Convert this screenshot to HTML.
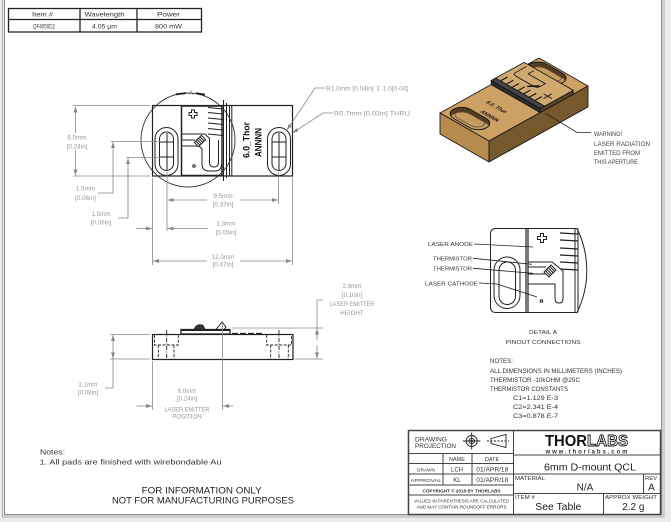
<!DOCTYPE html>
<html><head><meta charset="utf-8"><style>
html,body{margin:0;padding:0;background:#ececec;}
svg{display:block;}
text{font-family:"Liberation Sans",sans-serif;}
</style></head><body>
<svg width="671" height="522" viewBox="0 0 671 522" xmlns="http://www.w3.org/2000/svg">
<defs>
<marker id="a" viewBox="0 0 6 4" refX="6" refY="2" markerWidth="6" markerHeight="4" markerUnits="userSpaceOnUse" orient="auto-start-reverse"><path d="M0,0 L6,2 L0,4 z" fill="#888"/></marker>
<clipPath id="s1"><rect x="0.25" y="0.4" width="2" height="4" rx="1"/></clipPath>
<clipPath id="s2"><rect x="9.8" y="0.1" width="2" height="4" rx="1"/></clipPath>
</defs>
<rect width="671" height="522" fill="#ececec"/>
<rect x="4" y="0" width="658" height="515" fill="#fff"/>
<rect x="662" y="0" width="3" height="517" fill="#cfcfcf"/>
<rect x="2" y="515" width="663" height="3" fill="#cfcfcf"/>
<line x1="2.5" y1="0" x2="2.5" y2="517" stroke="#b0b0b0"/>
<line x1="4.5" y1="0" x2="4.5" y2="515" stroke="#8a8a8a"/>
<line x1="4" y1="514.5" x2="662" y2="514.5" stroke="#8a8a8a"/>
<line x1="661.5" y1="0" x2="661.5" y2="515" stroke="#8a8a8a"/>

<!-- top table -->
<g stroke="#222" stroke-width="1.3" fill="none">
<rect x="8.5" y="8.5" width="193" height="23.5"/>
<line x1="8.5" y1="19.5" x2="201.5" y2="19.5"/>
<line x1="80" y1="8.5" x2="80" y2="32"/>
<line x1="137" y1="8.5" x2="137" y2="32"/>
</g>
<g font-size="6.5" fill="#333" text-anchor="middle">
<text x="42.5" y="16.3" textLength="21" lengthAdjust="spacingAndGlyphs">Item #</text>
<text x="104.5" y="16.3" textLength="40" lengthAdjust="spacingAndGlyphs">Wavelength</text>
<text x="168.5" y="16.3" textLength="23" lengthAdjust="spacingAndGlyphs">Power</text>
<text x="44" y="28.3" textLength="22" lengthAdjust="spacingAndGlyphs">QF4050D2</text>
<text x="104.5" y="28.3" textLength="25" lengthAdjust="spacingAndGlyphs">4.05 µm</text>
<text x="168.5" y="28.3" textLength="27" lengthAdjust="spacingAndGlyphs">800 mW</text>
</g>

<!-- TOP VIEW -->
<g stroke="#222" fill="none" stroke-width="1">
<rect x="152.5" y="105.5" width="140" height="70.5" stroke-width="1.2"/>
<rect x="181.5" y="106" width="40.5" height="69.5" stroke-width="1.5"/>
<line x1="223.5" y1="100" x2="223.5" y2="181"/>
<line x1="226.5" y1="103" x2="226.5" y2="178"/>
<line x1="229.5" y1="105" x2="229.5" y2="176"/>
<line x1="231.8" y1="105" x2="231.8" y2="176"/>
<g stroke-width="1.1">
<line x1="208" y1="107.5" x2="223" y2="109"/>
<line x1="208" y1="112.5" x2="223" y2="114"/>
<line x1="208" y1="118" x2="223" y2="119.5"/>
<line x1="208" y1="123" x2="223" y2="124.5"/>
<line x1="208" y1="128.5" x2="223" y2="130"/>
<line x1="208" y1="134" x2="223" y2="135.5"/>
</g>
<path d="M191.5 110 h3 v2.5 h2.5 v3 h-2.5 v2.5 h-3 v-2.5 h-2.5 v-3 h2.5 z"/>
<path d="M182 134 H205 L209.5 138.5 V162 Q209.5 167 214 167 Q218.5 167 218.5 162 V140"/>
<path d="M182 146 H199 L202 149 V164 Q202 171 209 171 H215 Q221.5 171 221.5 164"/>
<path d="M182 140 H195"/>
<g transform="translate(200,141) rotate(-45)"><rect x="-5" y="-3" width="10" height="6" fill="#fff"/><path d="M-3 -3 V3 M-1 -3 V3 M1 -3 V3 M3 -3 V3"/></g>
<circle cx="194" cy="166" r="1.3"/>
<!-- slots -->
<rect x="155" y="127.5" width="23" height="48" rx="11.5"/>
<rect x="159.5" y="132" width="14" height="38.5" rx="7"/>
<path d="M167 133 V170 M160 142 H174 M160 157 H174"/>
<rect x="267.5" y="127.5" width="23" height="48" rx="11.5"/>
<rect x="272" y="132" width="14" height="38.5" rx="7"/>
<path d="M279 133 V170 M272 142 H286 M272 157 H286"/>
<circle cx="188" cy="140" r="47" stroke="#333" stroke-width="0.9"/>
<path d="M176 94.3 L186 93.1 M196 93.1 L205 94.6" stroke-width="1.8"/>
</g>
<text x="191" y="95" font-size="6" fill="#5070a8" text-anchor="middle">A</text>
<text transform="translate(249.5,140) rotate(-90)" text-anchor="middle" font-size="9" font-weight="bold" fill="#111" textLength="36" lengthAdjust="spacingAndGlyphs">6.0_Thor</text>
<text transform="translate(261.5,142.5) rotate(-90)" text-anchor="middle" font-size="9" font-weight="bold" fill="#111" textLength="29" lengthAdjust="spacingAndGlyphs">ANNNN</text>

<!-- top-view leaders -->
<g stroke="#888" fill="none" stroke-width="0.8">
<path d="M325 88 H315 L287 130" marker-end="url(#a)"/>
<path d="M333 113 H323 L292.5 133" marker-end="url(#a)"/>
</g>
<g font-size="6.2" fill="#999">
<text x="326" y="90.5" textLength="82" lengthAdjust="spacingAndGlyphs">R1.0mm [0.04in] ↧ 1.0[0.04]</text>
<text x="334" y="115.3" textLength="76" lengthAdjust="spacingAndGlyphs">R0.7mm [0.03in] THRU</text>
</g>

<!-- top-view dims -->
<g stroke="#888" fill="none" stroke-width="0.8">
<path d="M73 105.5 H150 M73 176 H150"/>
<path d="M75.5 133 V106.5" marker-end="url(#a)"/>
<path d="M75.5 150 V175.5" marker-end="url(#a)"/>
<path d="M111 141.5 H165 M126 157.5 H165"/>
<path d="M98 193 H113 V142" marker-end="url(#a)"/>
<path d="M118 218 H128 V158" marker-end="url(#a)"/>
<path d="M152.5 178 V265 M292.5 178 V265 M167 172 V231 M278.5 172 V204"/>
<path d="M207 200 H167.5" marker-end="url(#a)"/>
<path d="M240 200 H278" marker-end="url(#a)"/>
<path d="M136 228.5 H152" marker-end="url(#a)"/>
<path d="M208 228.5 H167.5" marker-end="url(#a)"/>
<path d="M207 261 H153" marker-end="url(#a)"/>
<path d="M240 261 H292" marker-end="url(#a)"/>
</g>
<g font-size="6.3" fill="#999" text-anchor="middle">
<text x="77" y="139.5">6.0mm</text>
<text x="77" y="148.5">[0.24in]</text>
<text x="85.5" y="190.5">1.5mm</text>
<text x="85.5" y="200">[0.06in]</text>
<text x="101" y="216">1.5mm</text>
<text x="101" y="224.5">[0.06in]</text>
<text x="223" y="198">9.5mm</text>
<text x="223" y="206.5">[0.37in]</text>
<text x="226" y="225.5">1.3mm</text>
<text x="226" y="234.5">[0.05in]</text>
<text x="223" y="259">12.0mm</text>
<text x="223" y="266.5">[0.47in]</text>
</g>

<!-- 3D VIEW -->
<g stroke="#1a1a1a" stroke-width="0.9" stroke-linejoin="round">
<polygon points="440,113 539,58 588,86 489,141" fill="#cda063"/>
<polygon points="440,113 489,141 489,162 440,134" fill="#b78a4d"/>
<polygon points="489,141 588,86 588,107 489,162" fill="#76582d"/>
</g>
<g transform="matrix(8.25,-4.58,8.17,4.67,440,113)">
<rect x="0.25" y="0.4" width="2" height="4" rx="1" fill="#5a4020"/>
<rect x="-0.3" y="0.95" width="2" height="4" rx="1" fill="#c59c60" clip-path="url(#s1)"/>
<rect x="0.25" y="0.4" width="2" height="4" rx="1" fill="none" stroke="#111" stroke-width="0.9" vector-effect="non-scaling-stroke"/>
<rect x="0.55" y="0.85" width="1.4" height="3.1" rx="0.7" fill="none" stroke="#333" stroke-width="0.6" vector-effect="non-scaling-stroke"/>
<rect x="9.8" y="0.1" width="2" height="4" rx="1" fill="#5a4020"/>
<rect x="9.25" y="0.65" width="2" height="4" rx="1" fill="#c59c60" clip-path="url(#s2)"/>
<rect x="9.8" y="0.1" width="2" height="4" rx="1" fill="none" stroke="#111" stroke-width="0.9" vector-effect="non-scaling-stroke"/>
<rect x="10.1" y="0.55" width="1.4" height="3.1" rx="0.7" fill="none" stroke="#333" stroke-width="0.6" vector-effect="non-scaling-stroke"/>
</g>
<g stroke="#111" stroke-width="0.8" stroke-linejoin="round">
<polygon points="491.2,80.6 540.2,108.6 540.2,112.6 491.2,84.6" fill="#2e2e2e"/>
<polygon points="540.2,108.6 573.2,90.3 573.2,94.3 540.2,112.6" fill="#5a4426"/>
</g>
<g transform="matrix(8.25,-4.58,8.17,4.67,440,109)" fill="none" stroke="#111" stroke-width="0.8">
<rect x="6.2" y="0" width="4" height="6" fill="#cfa96f" vector-effect="non-scaling-stroke"/>
<rect x="6.2" y="0" width="0.55" height="6" fill="#444" vector-effect="non-scaling-stroke"/>
<path d="M6.8 0.6 H7.6 M6.8 1.3 H7.6 M6.8 2 H7.6 M6.8 2.7 H7.6 M6.8 3.4 H7.6 M6.8 4.1 H7.6 M6.8 4.8 H7.6" vector-effect="non-scaling-stroke" stroke-width="1.1"/>
<path d="M9.9 0.6 H8.6 Q8.2 0.6 8.2 1 V3.2 Q8.2 3.6 8.6 3.6 H9.2 V1.5 H9.9" vector-effect="non-scaling-stroke"/>
<path d="M8 4.6 V5.6 M7.5 5.1 H8.5" vector-effect="non-scaling-stroke"/>
<path d="M7.8 2.8 L8.6 3.5" vector-effect="non-scaling-stroke" stroke-width="1.5"/>
</g>
<text transform="matrix(0.868,0.496,-0.874,0.485,495,108)" text-anchor="middle" font-size="6" font-weight="bold" fill="#111" textLength="22" lengthAdjust="spacingAndGlyphs">6.0_Thor</text>
<text transform="matrix(0.868,0.496,-0.874,0.485,488,117)" text-anchor="middle" font-size="6" font-weight="bold" fill="#111" textLength="20" lengthAdjust="spacingAndGlyphs">ANNNN</text>
<path d="M545 113 L577 132.5 H591" stroke="#222" stroke-width="0.8" fill="none"/>
<g font-size="6.2" fill="#444">
<text x="594" y="136" textLength="28" lengthAdjust="spacingAndGlyphs">WARNING!</text>
<text x="594" y="146" textLength="56" lengthAdjust="spacingAndGlyphs">LASER RADIATION</text>
<text x="594" y="155" textLength="46" lengthAdjust="spacingAndGlyphs">EMITTED FROM</text>
<text x="594" y="164" textLength="44" lengthAdjust="spacingAndGlyphs">THIS APERTURE</text>
</g>

<!-- DETAIL A -->
<g stroke="#222" fill="none" stroke-width="1">
<path d="M496 228.5 H577 A95 95 0 0 1 577 312.5 H496 Q490.5 312.5 490.5 307 V234 Q490.5 228.5 496 228.5 Z"/>
<path d="M526 228.5 V312.5 M528 228.5 V312.5" stroke-width="1.2"/>
<path d="M575 228.5 V312.5 M578 228.5 V312.5"/>
<g stroke-width="1.2">
<line x1="560" y1="233" x2="578" y2="234"/>
<line x1="560" y1="240" x2="578" y2="241"/>
<line x1="560" y1="248" x2="578" y2="249"/>
<line x1="560" y1="255" x2="578" y2="256"/>
<line x1="560" y1="262" x2="578" y2="263"/>
<line x1="560" y1="269" x2="578" y2="270"/>
</g>
<path d="M540.5 233.5 h3 v3 h3 v3 h-3 v3 h-3 v-3 h-3 v-3 h3 z"/>
<rect x="494" y="257" width="26" height="51.5" rx="13"/>
<rect x="499" y="262" width="16.5" height="42.5" rx="8.2"/>
<path d="M528 262 H552 L563 271 V299 Q563 303 559 303 Q555 303 555 299 V284 H528"/>
<path d="M528 267 H546 M528 274 H546"/>
<g transform="translate(550,271) rotate(-45)"><rect x="-5" y="-3.5" width="10" height="7" fill="#fff"/><path d="M-3 -3.5 V3.5 M-1 -3.5 V3.5 M1 -3.5 V3.5 M3 -3.5 V3.5"/></g>
<circle cx="541.5" cy="301" r="1.3"/>
<g stroke-width="0.8">
<path d="M474 244 L533 247"/>
<path d="M473 258.3 L532 264.3"/>
<path d="M473 268.3 L533 273.3"/>
<path d="M479 283 L497 284 L537 297"/>
</g>
</g>
<g font-size="5.8" fill="#333">
<text x="428" y="246" textLength="45" lengthAdjust="spacingAndGlyphs">LASER ANODE</text>
<text x="433" y="260.3" textLength="39" lengthAdjust="spacingAndGlyphs">THERMISTOR</text>
<text x="433" y="270.3" textLength="39" lengthAdjust="spacingAndGlyphs">THERMISTOR</text>
<text x="425" y="285.3" textLength="53" lengthAdjust="spacingAndGlyphs">LASER CATHODE</text>
</g>
<g font-size="5.8" fill="#333" text-anchor="middle">
<text x="543" y="334" textLength="28" lengthAdjust="spacingAndGlyphs">DETAIL A</text>
<text x="543" y="344" textLength="75" lengthAdjust="spacingAndGlyphs">PINOUT CONNECTIONS</text>
</g>

<!-- SIDE VIEW -->
<g stroke="#222" fill="none" stroke-width="1">
<rect x="152.5" y="334.5" width="140.5" height="25" stroke-width="1.2"/>
<g stroke-dasharray="3 1.5" stroke-width="0.9">
<path d="M154.5 335 V345 H178.3 V335 M158.3 345 V359 M174 345 V359"/>
<path d="M266.7 335 V345 H291.5 V335 M270.7 345 V359 M288.3 345 V359"/>
<path d="M166.7 330 V359 M279 330 V359" stroke-dasharray="4 1.5 1 1.5"/>
</g>
<rect x="181" y="329.5" width="49" height="4.5" stroke-width="1.3"/>
<path d="M181 330 H230" stroke-width="2"/>
<path d="M194 329.5 Q197 323 203 325.5 L205 329.5" fill="#333"/>
<path d="M216 329.5 L222 322 L226 327 L224 329.5"/>
<path d="M232 333.5 H262" stroke-width="1.3" stroke-dasharray="6 2"/>
</g>
<g stroke="#888" fill="none" stroke-width="0.8">
<path d="M222.5 323 V410"/>
<path d="M232 328 H323 M295 359 H323"/>
<path d="M323 300 H317 V328.5"/>
<path d="M317 340 V328.5" marker-end="url(#a)"/>
<path d="M317 345 V358.5" marker-end="url(#a)"/>
<path d="M110 334.5 H150 M110 359 H150"/>
<path d="M105 388 H113 V335" marker-end="url(#a)"/>
<path d="M113 350 V358.5" marker-end="url(#a)"/>
<path d="M152.5 361 V410"/>
<path d="M136.7 406 H152" marker-end="url(#a)"/>
<path d="M233.3 406 H223" marker-end="url(#a)"/>
</g>
<g font-size="6.2" fill="#999" text-anchor="middle">
<text x="352" y="288">2.6mm</text>
<text x="352" y="297">[0.10in]</text>
<text x="352" y="306" textLength="45" lengthAdjust="spacingAndGlyphs">LASER EMITTER</text>
<text x="352" y="315">HEIGHT</text>
<text x="88" y="386.3">2.1mm</text>
<text x="88" y="394.7">[0.08in]</text>
<text x="187" y="393">6.0mm</text>
<text x="187" y="400.5">[0.24in]</text>
<text x="187" y="411.3" textLength="45" lengthAdjust="spacingAndGlyphs">LASER EMITTER</text>
<text x="187" y="418.7">POSITION</text>
</g>

<!-- right notes -->
<g font-size="6.2" fill="#333">
<text x="490" y="363" textLength="23" lengthAdjust="spacingAndGlyphs">NOTES:</text>
<text x="490" y="373" textLength="132" lengthAdjust="spacingAndGlyphs">ALL DIMENSIONS IN MILLIMETERS (INCHES)</text>
<text x="490" y="382" textLength="90" lengthAdjust="spacingAndGlyphs">THERMISTOR -10kOHM @25C</text>
<text x="490" y="391" textLength="78" lengthAdjust="spacingAndGlyphs">THERMISTOR CONSTANTS</text>
<text x="513" y="400" textLength="45" lengthAdjust="spacingAndGlyphs">C1=1.129 E-3</text>
<text x="513" y="409" textLength="45" lengthAdjust="spacingAndGlyphs">C2=2.341 E-4</text>
<text x="513" y="418" textLength="45" lengthAdjust="spacingAndGlyphs">C3=0.878 E-7</text>
</g>

<!-- left notes -->
<g fill="#333">
<text x="40" y="454.5" font-size="7.5" textLength="25" lengthAdjust="spacingAndGlyphs">Notes:</text>
<text x="39.5" y="464.5" font-size="7.5" textLength="182" lengthAdjust="spacingAndGlyphs">1. All pads are finished with wirebondable Au</text>
</g>
<g fill="#222" font-size="9.5" text-anchor="middle">
<text x="201.7" y="493.5" textLength="120" lengthAdjust="spacingAndGlyphs">FOR INFORMATION ONLY</text>
<text x="203" y="503.5" textLength="182" lengthAdjust="spacingAndGlyphs">NOT FOR MANUFACTURING PURPOSES</text>
</g>

<!-- TITLE BLOCK -->
<g stroke="#444" fill="none" stroke-width="1">
<rect x="408.5" y="430.5" width="252" height="84" stroke-width="1.5"/>
<path d="M513.5 430.5 V514.5"/>
<path d="M408.5 453.5 H513.5 M408.5 463.5 H513.5 M408.5 474 H513.5 M408.5 485 H513.5 M408.5 495 H513.5"/>
<path d="M443 453.5 V485 M472 453.5 V485"/>
<path d="M513.5 455 H660.5 M513.5 474 H660.5 M513.5 493.5 H660.5"/>
<path d="M643.5 474 V493.5 M603.5 493.5 V514.5"/>
</g>
<g stroke="#222" fill="none" stroke-width="0.9">
<circle cx="471.7" cy="441" r="5.5"/>
<circle cx="471.7" cy="441" r="2.8"/>
<circle cx="471.7" cy="441" r="0.8" fill="#222"/>
<path d="M463 441 H480.4 M471.7 432.5 V449.5"/>
<path d="M491 438.5 L506 434.5 V447.5 L491 443.5 Z"/>
<path d="M487 441 H509" stroke-dasharray="2 1.5"/>
</g>
<g fill="#333" font-size="6.3">
<text x="415" y="441.5" textLength="32" lengthAdjust="spacingAndGlyphs">DRAWING</text>
<text x="415" y="448" textLength="41" lengthAdjust="spacingAndGlyphs">PROJECTION</text>
</g>
<g fill="#333" text-anchor="middle">
<text x="457" y="460.8" font-size="5.5">NAME</text>
<text x="492" y="460.8" font-size="5.5">DATE</text>
<text x="426" y="471.3" font-size="4.8">DRAWN</text>
<text x="457" y="471.5" font-size="6">LCH</text>
<text x="492.3" y="471.5" font-size="6" textLength="32" lengthAdjust="spacingAndGlyphs">01/APR/18</text>
<text x="426" y="481.8" font-size="4.8" textLength="31" lengthAdjust="spacingAndGlyphs">APPROVAL</text>
<text x="457" y="482" font-size="6">KL</text>
<text x="492.3" y="482" font-size="6" textLength="32" lengthAdjust="spacingAndGlyphs">01/APR/18</text>
<text x="461.5" y="492.3" font-size="4.4" font-weight="bold" textLength="78" lengthAdjust="spacingAndGlyphs">COPYRIGHT © 2018 BY THORLABS</text>
<text x="461.5" y="502.5" font-size="4.3" textLength="95" lengthAdjust="spacingAndGlyphs">VALUES IN PARENTHESIS ARE CALCULATED</text>
<text x="461.5" y="508.5" font-size="4.3" textLength="90" lengthAdjust="spacingAndGlyphs">AND MAY CONTAIN ROUNDOFF ERRORS</text>
</g>
<text x="545" y="446" font-size="16" font-weight="bold" fill="#111" textLength="42" lengthAdjust="spacingAndGlyphs">THOR</text>
<text x="587" y="446" font-size="16" font-weight="bold" fill="#fff" stroke="#111" stroke-width="0.9" textLength="41" lengthAdjust="spacingAndGlyphs">LABS</text>
<text x="545.5" y="453.3" font-size="6" font-weight="bold" fill="#333" textLength="82" lengthAdjust="spacing">www.thorlabs.com</text>
<g fill="#222" text-anchor="middle" font-size="10">
<text x="590" y="470.3" textLength="92" lengthAdjust="spacingAndGlyphs">6mm D-mount QCL</text>
<text x="585" y="490.5">N/A</text>
<text x="651.5" y="490.5">A</text>
<text x="558.3" y="510" textLength="46" lengthAdjust="spacingAndGlyphs">See Table</text>
<text x="633.3" y="510">2.2 g</text>
</g>
<g fill="#333" font-size="5.3">
<text x="515" y="479.8" textLength="30" lengthAdjust="spacingAndGlyphs">MATERIAL</text>
<text x="645" y="479.8" textLength="12" lengthAdjust="spacingAndGlyphs">REV</text>
<text x="515" y="498.8" textLength="20" lengthAdjust="spacingAndGlyphs">ITEM #</text>
<text x="605" y="498.8" textLength="52" lengthAdjust="spacingAndGlyphs">APPROX WEIGHT</text>
</g>
</svg>
</body></html>
